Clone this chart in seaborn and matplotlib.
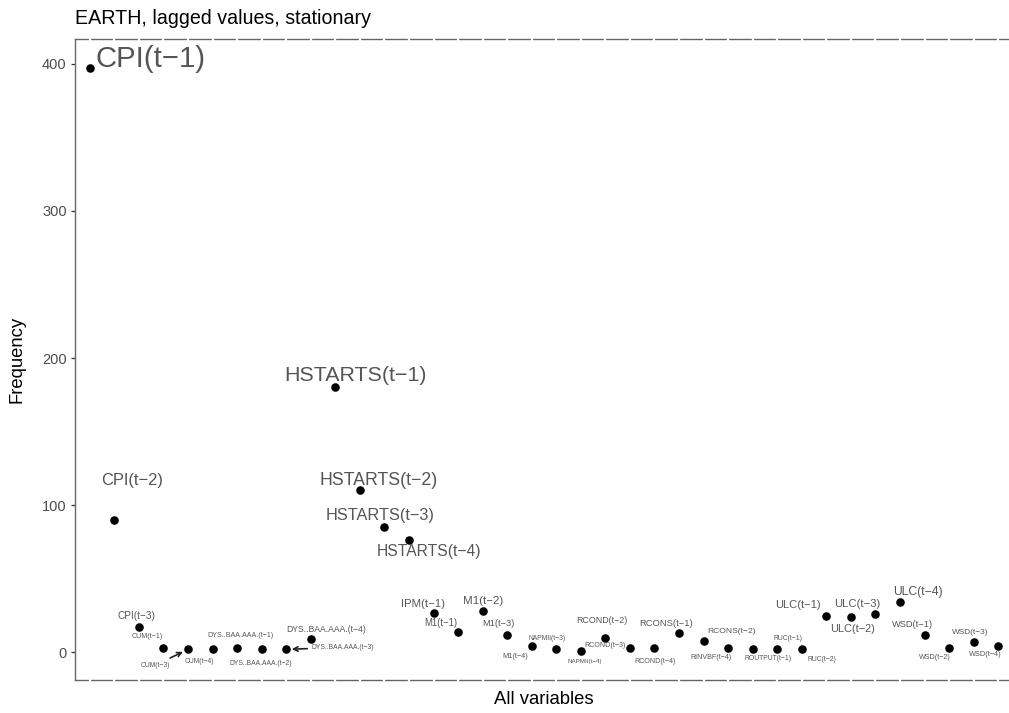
import numpy as np
import pandas as pd
import matplotlib
matplotlib.use("Agg")
import matplotlib.pyplot as plt
import seaborn as sns

# ---------------- data ----------------
variables = [
    "CPI(t−1)", "CPI(t−2)", "CPI(t−3)",
    "CUM(t−1)", "CUM(t−3)", "CUM(t−4)",
    "DYS..BAA.AAA.(t−1)", "DYS..BAA.AAA.(t−2)", "DYS..BAA.AAA.(t−3)", "DYS..BAA.AAA.(t−4)",
    "HSTARTS(t−1)", "HSTARTS(t−2)", "HSTARTS(t−3)", "HSTARTS(t−4)",
    "IPM(t−1)",
    "M1(t−1)", "M1(t−2)", "M1(t−3)", "M1(t−4)",
    "NAPMII(t−3)", "NAPMII(t−4)",
    "RCOND(t−2)", "RCOND(t−3)", "RCOND(t−4)",
    "RCONS(t−1)", "RCONS(t−2)",
    "RINVBF(t−4)",
    "ROUTPUT(t−1)",
    "RUC(t−1)", "RUC(t−2)",
    "ULC(t−1)", "ULC(t−2)", "ULC(t−3)", "ULC(t−4)",
    "WSD(t−1)", "WSD(t−2)", "WSD(t−3)", "WSD(t−4)",
]
frequency = [
    397, 90, 17,
    3, 2, 2,
    3, 2, 2, 9,
    180, 110, 85, 76,
    27,
    14, 28, 12, 4,
    2, 1,
    10, 3, 3,
    13, 8,
    3,
    2,
    2, 2,
    25, 24, 26, 34,
    12, 3, 7, 4,
]

title = "EARTH, lagged values, stationary"
xlabel = "All variables"
ylabel = "Frequency"
yticks = [0, 100, 200, 300, 400]

# ---------------- label layout (offsets in pixels from the point, repel-like) ----------------
label_dx = [61, 18, -2,
            -16, -33, -13,
            3, -1, 57, 15,
            20, 19, -4, 20,
            -11,
            -17, 1, -9, -16,
            -9, 4,
            -4, -25, 1,
            -13, 28,
            -17,
            15,
            11, 20,
            -28, 2, -18, 18,
            -12, -14, -3, -13]
label_dy = [-9, -39, -11,
            -11, 16, 12,
            -12, 14, -2, -10,
            -12, -10, -12, 11,
            -9,
            -9, -10, -11, 10,
            -11, 11,
            -17, -2, 14,
            -10, -9,
            10,
            9,
            -11, 10,
            -11, 12, -10, -10,
            -10, 10, -10, 8]
with_arrow = [i in (4, 8) for i in range(len(variables))]

df = pd.DataFrame({"variable": variables, "frequency": frequency})

# ---------------- figure ----------------
DPI = 100
fig = plt.figure(figsize=(10.09, 7.13), dpi=DPI)
sns.set_style("white")
plt.rcParams["font.family"] = ["Liberation Sans", "DejaVu Sans"]

ax = fig.add_axes([75 / 1009, 1 - 680 / 713, 938 / 1009, 641 / 713])

sns.scatterplot(data=df, x="variable", y="frequency", color="black",
                s=38, edgecolor="black", linewidth=0, ax=ax, zorder=4)

n = len(variables)
ax.set_xlim(-0.6, n - 1 + 0.6)
fmin, fmax = min(frequency), max(frequency)
rng = fmax - fmin
ax.set_ylim(fmin - 0.05 * rng, fmax + 0.05 * rng)

# labels, size mapped to frequency
for i, (name, val) in enumerate(zip(variables, frequency)):
    em_px = 5.0 + 1.22 * np.sqrt(val)
    fs = em_px * 72 / DPI
    off = (label_dx[i] * 72 / DPI, -label_dy[i] * 72 / DPI)
    kw = {}
    if with_arrow[i]:
        kw["arrowprops"] = dict(arrowstyle="->", color="#222222", lw=1.2,
                                shrinkA=1, shrinkB=4, mutation_scale=8)
    ax.annotate(name, xy=(i, val), xytext=off, textcoords="offset points",
                ha="center", va="center", fontsize=fs, color="#555555",
                zorder=5, **kw)

# axes styling
for sp in ax.spines.values():
    sp.set_color("#666666")
    sp.set_linewidth(1.0)
    sp.set_visible(True)

ax.set_yticks(yticks)
ax.set_yticklabels([str(t) for t in yticks])
ax.tick_params(axis="y", which="both", left=True, length=3, width=0.9,
               color="#333333", labelcolor="#4d4d4d", labelsize=10.5, pad=3)
ax.tick_params(axis="x", which="both", bottom=True, top=True, length=4,
               width=1.6, color="white", direction="inout",
               labelbottom=False)
ax.xaxis.set_zorder(3)

ax.grid(False)
ax.set_facecolor("white")

ax.set_title(title, loc="left", fontsize=14.1, color="black", pad=10.5)
ax.set_xlabel(xlabel, fontsize=13.3, color="black")
ax.set_ylabel(ylabel, fontsize=13.3, color="black")
ax.xaxis.set_label_coords(0.5, (680 - 700) / 641)
ax.xaxis.label.set_va("center")
ax.yaxis.set_label_coords((17 - 75) / 938, 0.5)
ax.yaxis.label.set_va("center")

fig.savefig("out.png", dpi=DPI)
